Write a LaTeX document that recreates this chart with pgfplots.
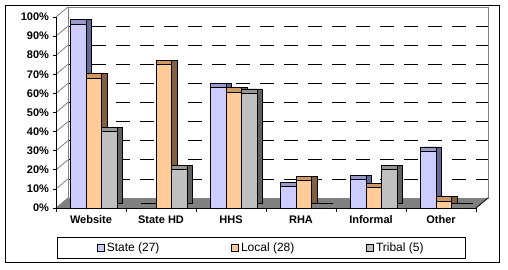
\documentclass[border=0pt]{standalone}
\usepackage{fontspec}
\setmainfont{Liberation Sans}
\usepackage{pgfplots}
\usepackage{pgfplotstable}
\pgfplotsset{compat=1.18}

\definecolor{stateF}{HTML}{CCCCFF}
\definecolor{stateT}{HTML}{9999CC}
\definecolor{stateS}{HTML}{666699}
\definecolor{localF}{HTML}{FFCC99}
\definecolor{localT}{HTML}{CC9966}
\definecolor{localS}{HTML}{806040}
\definecolor{tribF}{HTML}{C0C0C0}
\definecolor{tribT}{HTML}{969696}
\definecolor{tribS}{HTML}{606060}
\definecolor{floorC}{HTML}{808080}

% share of respondents per channel, in percent
\pgfplotstableread{
x state local tribal
0 96.3 67.9 40
1 0    75.0 20
2 63.0 60.7 60
3 11.1 14.3 0
4 14.8 10.7 20
5 29.6 3.6  0
}\data

\pgfplotsset{
  sideface/.style={fill=#1, draw=black, line width=0.7pt, xshift=5.5pt, yshift=4.5pt, forget plot},
  topface/.style={fill=#1, draw=black, line width=0.7pt, yshift=4.5pt, forget plot},
  frontface/.style={fill=#1, draw=black, line width=0.7pt},
}

\begin{document}
\begin{tikzpicture}
  % back wall, floor and gridlines
  \begin{axis}[
    at={(68pt,71pt)}, anchor=south west,
    scale only axis, width=420pt, height=191pt,
    xmin=-0.5, xmax=5.5, ymin=0, ymax=100,
    xtick=\empty, ytick={10,20,...,90}, yticklabels={},
    major tick length=0pt,
    ymajorgrids,
    grid style={black, line width=0.8pt, dash pattern=on 14pt off 10pt},
    axis line style={gray, line width=0.8pt},
    clip=false,
  ]
    \fill[floorC] (axis cs:-0.5,0) -- (axis cs:5.5,0) -- ++(-12pt,-10pt)
      -- ([shift={(-12pt,-10pt)}]axis cs:-0.5,0) -- cycle;
    \draw[black, line width=0.8pt] (axis cs:5.5,0) -- ++(-12pt,-10pt);
    \pgfplotsinvokeforeach{0,10,...,100}{
      \draw[gray, line width=0.8pt] (axis cs:-0.5,#1) -- ++(-12pt,-10pt);
    }
  \end{axis}

  % bars
  \begin{axis}[
    at={(56pt,61pt)}, anchor=south west,
    scale only axis, width=420pt, height=191pt,
    xmin=-0.5, xmax=5.5, ymin=0, ymax=100,
    axis x line*=bottom, axis y line*=left,
    axis line style={black, line width=0.8pt},
    clip=false,
    ybar, bar width=15.5pt,
    ytick={0,10,...,100},
    yticklabel={\pgfmathprintnumber{\tick}\%},
    xtick={-0.5,0.5,...,5.5}, xticklabels={},
    extra x ticks={0,1,2,3,4,5},
    extra x tick labels={Website,State HD,HHS,RHA,Informal,Other},
    extra x tick style={major tick length=0pt},
    tick align=outside, major tick length=3.5pt,
    tick style={black, line width=0.8pt},
    ticklabel style={font=\fontsize{11}{13}\selectfont\bfseries},
    xticklabel style={yshift=-4pt},
    /pgf/number format/assume math mode=true,
    legend columns=3,
    legend style={at={(0.489,-0.207)}, anchor=center, draw=black, line width=0.8pt,
      font=\fontsize{12}{14}\selectfont, inner xsep=40pt, inner ysep=3.5pt,
      /tikz/every even column/.append style={column sep=70pt}},
    legend image code/.code={\draw[#1,draw=black,line width=0.6pt] (0pt,-3.5pt) rectangle (7pt,3.5pt);},
  ]
    \addplot[sideface=stateS, bar shift=-12.5pt] table[x=x,y=state] {\data};
    \addplot[topface=stateT, bar shift=-12.5pt] table[x=x,y=state] {\data};
    \addplot[frontface=stateF, bar shift=-12.5pt] table[x=x,y=state] {\data};
    \addplot[sideface=localS, bar shift=3pt] table[x=x,y=local] {\data};
    \addplot[topface=localT, bar shift=3pt] table[x=x,y=local] {\data};
    \addplot[frontface=localF, bar shift=3pt] table[x=x,y=local] {\data};
    \addplot[sideface=tribS, bar shift=18.5pt] table[x=x,y=tribal] {\data};
    \addplot[topface=tribT, bar shift=18.5pt] table[x=x,y=tribal] {\data};
    \addplot[frontface=tribF, bar shift=18.5pt] table[x=x,y=tribal] {\data};
    \legend{State (27),Local (28),Tribal (5)}
  \end{axis}

  \draw[black, line width=0.8pt] (5pt,7pt) rectangle (499pt,264pt);
  \path[use as bounding box] (0pt,0pt) rectangle (508pt,269pt);
\end{tikzpicture}
\end{document}
